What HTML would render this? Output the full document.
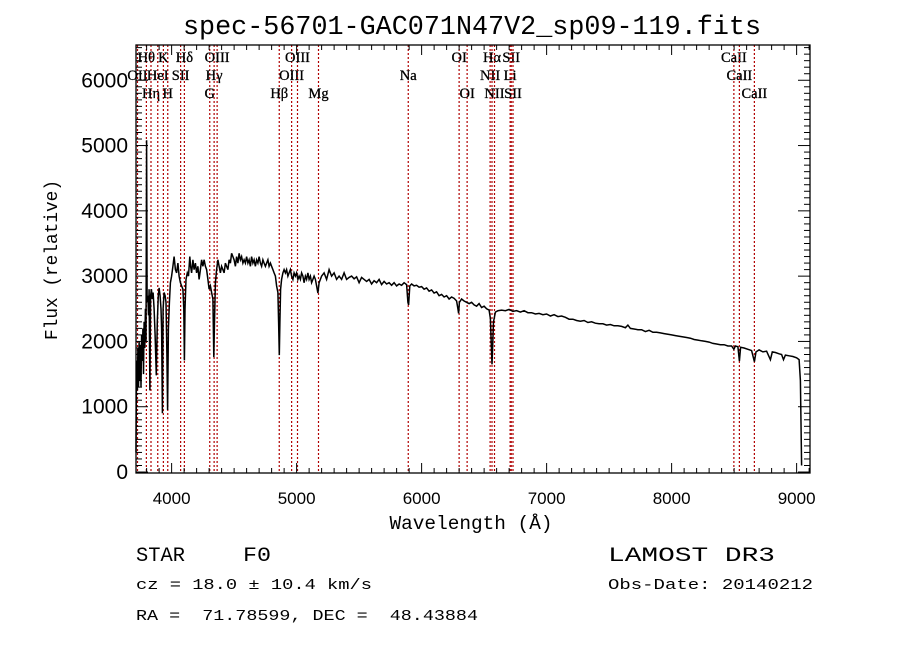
<!DOCTYPE html>
<html><head><meta charset="utf-8"><style>
html,body{margin:0;padding:0;background:#fff;}
svg{display:block;}
text{white-space:pre;}
</style></head><body>
<svg id="chart" width="900" height="649" viewBox="0 0 900 649" xmlns="http://www.w3.org/2000/svg" xml:space="preserve">
<rect width="900" height="649" fill="#fff"/>
<text x="472" y="34" text-anchor="middle" font-family="Liberation Mono, monospace" font-size="26.5" textLength="578" lengthAdjust="spacingAndGlyphs">spec-56701-GAC071N47V2_sp09-119.fits</text>
<g id="lines"></g>
<g id="spec"></g>
<g id="axes"></g>
<text x="471" y="529" text-anchor="middle" font-family="Liberation Mono, monospace" font-size="19" textLength="163" lengthAdjust="spacingAndGlyphs">Wavelength (Å)</text>
<text transform="translate(57,260) rotate(-90)" text-anchor="middle" font-family="Liberation Mono, monospace" font-size="18" textLength="160" lengthAdjust="spacingAndGlyphs">Flux (relative)</text>
<text x="136" y="561" font-family="Liberation Mono, monospace" font-size="20" textLength="49" lengthAdjust="spacingAndGlyphs">STAR</text>
<text x="243" y="561" font-family="Liberation Mono, monospace" font-size="20" textLength="28" lengthAdjust="spacingAndGlyphs">F0</text>
<text x="608" y="561" font-family="Liberation Mono, monospace" font-size="20" textLength="167" lengthAdjust="spacingAndGlyphs">LAMOST DR3</text>
<text x="136" y="589" font-family="Liberation Mono, monospace" font-size="15" textLength="236" lengthAdjust="spacingAndGlyphs">cz = 18.0 ± 10.4 km/s</text>
<text x="608" y="589" font-family="Liberation Mono, monospace" font-size="15" textLength="205" lengthAdjust="spacingAndGlyphs">Obs-Date: 20140212</text>
<text x="136" y="620" font-family="Liberation Mono, monospace" font-size="15" textLength="342" lengthAdjust="spacingAndGlyphs">RA =  71.78599, DEC =  48.43884</text>
</svg>
<script>
const wave=[3715,3718,3722,3726,3730,3735,3740,3745,3750,3755,3760,3765,3770,3775,3780,3785,3790,3795,3800,3804,3810,3815,3820,3826,3832,3838,3845,3852,3860,3868,3877,3885,3893,3900,3908,3915,3920,3926,3932,3940,3948,3955,3962,3968,3974,3982,3990,4000,4010,4020,4030,4040,4050,4060,4070,4080,4090,4097,4102,4107,4115,4125,4135,4145,4152,4160,4170,4180,4190,4200,4210,4220,4230,4240,4250,4260,4270,4280,4290,4300,4310,4320,4330,4337,4343,4350,4360,4370,4380,4390,4400,4410,4420,4430,4440,4450,4460,4470,4480,4490,4500,4510,4520,4530,4540,4550,4560,4570,4580,4590,4600,4610,4620,4630,4640,4650,4660,4670,4680,4690,4700,4710,4720,4730,4740,4750,4760,4770,4780,4790,4800,4810,4820,4830,4840,4850,4856,4861,4866,4872,4880,4890,4900,4910,4920,4930,4940,4950,4960,4970,4980,4990,5000,5010,5020,5030,5040,5050,5060,5070,5080,5090,5100,5110,5120,5130,5140,5150,5160,5170,5180,5190,5200,5220,5240,5260,5280,5300,5320,5340,5360,5380,5400,5420,5440,5460,5480,5500,5520,5540,5560,5580,5600,5620,5640,5660,5680,5700,5720,5740,5760,5780,5800,5820,5840,5860,5880,5890,5896,5905,5920,5940,5960,5980,6000,6020,6040,6060,6080,6100,6120,6140,6160,6180,6200,6220,6240,6260,6280,6290,6296,6302,6320,6340,6360,6380,6400,6420,6440,6460,6480,6500,6520,6540,6550,6558,6563,6568,6575,6590,6610,6640,6670,6700,6730,6760,6790,6820,6850,6880,6910,6940,6970,7000,7030,7060,7090,7120,7150,7180,7210,7240,7270,7300,7330,7360,7390,7420,7450,7480,7510,7540,7570,7600,7630,7650,7670,7700,7730,7760,7790,7820,7850,7880,7910,7940,7970,8000,8030,8060,8090,8120,8150,8180,8210,8240,8270,8300,8330,8360,8390,8420,8450,8480,8498,8510,8530,8542,8552,8580,8610,8640,8662,8675,8700,8730,8760,8790,8805,8830,8860,8880,8895,8910,8940,8970,9000,9020,9030,9040];
const flux=[300,1300,1700,1250,1900,1300,2000,1400,1950,1300,2100,1700,2200,1500,2300,1900,2500,2000,5080,2600,2700,2400,2800,1250,2700,2800,2650,2750,2500,2100,1480,2300,2700,2820,2700,2500,2200,900,2500,2750,2700,2600,1800,950,2200,2600,2900,3000,3150,3300,3100,3050,3200,3000,2900,2850,2800,2500,1710,2500,2950,3050,3000,3300,3150,3050,3250,3100,3200,3050,3150,2950,3100,3250,3150,3250,3150,3100,2950,2800,2850,2750,2650,1760,2300,2900,3100,3250,3150,3050,3150,3100,3050,3200,3150,3100,3250,3200,3350,3300,3250,3150,3300,3200,3350,3250,3300,3200,3250,3200,3300,3200,3250,3150,3300,3200,3250,3150,3250,3200,3300,3200,3150,3250,3200,3150,3200,3250,3150,3200,3150,3100,3050,3000,2850,2750,2300,1790,2300,2800,2950,3050,3100,3050,3100,3000,3050,3100,3000,2950,3050,3000,3050,2950,3000,2950,3050,3000,2900,3000,2950,3050,2950,3000,2900,2950,3000,2950,2850,2740,2900,2950,3000,3050,2950,3100,3000,3050,2950,3000,2950,3050,2950,2980,3000,2960,2990,2900,2980,2950,2920,2950,2880,2930,2900,2950,2870,2920,2880,2900,2860,2900,2850,2880,2860,2900,2870,2600,2560,2850,2880,2850,2860,2830,2840,2800,2820,2770,2790,2740,2760,2700,2720,2680,2700,2650,2680,2660,2620,2500,2430,2600,2650,2620,2600,2580,2600,2560,2540,2580,2520,2540,2500,2480,2350,1900,1650,1900,2300,2450,2470,2480,2470,2490,2460,2470,2450,2470,2440,2440,2420,2430,2410,2420,2390,2410,2380,2390,2370,2340,2340,2320,2310,2320,2290,2300,2280,2270,2270,2250,2260,2240,2240,2230,2210,2250,2200,2190,2180,2180,2150,2170,2140,2140,2130,2120,2110,2100,2090,2080,2070,2060,2050,2030,2020,2010,2000,1990,1970,1960,1950,1950,1930,1930,1880,1930,1920,1700,1910,1900,1880,1860,1690,1840,1870,1840,1850,1720,1840,1830,1810,1800,1720,1790,1780,1770,1750,1720,1400,100];
const lineWaves=[3727,3798,3835,3889,3934,3969,4072,4102,4305,4340,4364,4861,4960,5007,5175,5893,6300,6364,6548,6563,6583,6708,6717,6731,8498,8542,8662];
const labelNames=["OII","Hθ","Hη","HeI","K","H","SII","Hδ","G","Hγ","OIII","Hβ","OIII","OIII","Mg","Na","OI","OI","NII","Hα","NII","Li","SII","SII","CaII","CaII","CaII"];
const labelRows=[1,0,2,1,0,2,1,0,2,1,0,2,1,0,2,1,0,2,1,0,2,1,0,2,0,1,2];
const xTicks=[4000,5000,6000,7000,8000,9000];
const yTicks=[0,1000,2000,3000,4000,5000,6000];

const NS="http://www.w3.org/2000/svg";
const L=136,R=810,T=45,B=473;
const XMIN=3715,XMAX=9107,YMIN=-15,YMAX=6540;
const xs=w=>L+(w-XMIN)/(XMAX-XMIN)*(R-L);
const ys=f=>B-(f-YMIN)/(YMAX-YMIN)*(B-T);
function mk(tag,attrs,parent){const e=document.createElementNS(NS,tag);for(const k in attrs)e.setAttribute(k,attrs[k]);parent.appendChild(e);return e;}

const gl=document.getElementById('lines');
lineWaves.forEach((w,i)=>{
  const x=xs(w);
  const ln=mk('line',{x1:x,x2:x,y1:T,y2:B,stroke:'#b00000','stroke-width':1.2,'stroke-dasharray':'2,2'},gl);
  
  
  const t=mk('text',{x:x,y:62+labelRows[i]*18,'text-anchor':'middle','font-family':'Liberation Serif, serif','font-size':14.5,'stroke':'#000','stroke-width':0.3},gl);
  t.textContent=labelNames[i];
  
  
});

const gs=document.getElementById('spec');
const pts=wave.map((w,i)=>xs(w).toFixed(1)+','+ys(flux[i]).toFixed(1)).join(' ');
const pl=mk('polyline',{points:pts,fill:'none',stroke:'#000','stroke-width':1.5,'stroke-linejoin':'miter'},gs);



const ga=document.getElementById('axes');
const fr=mk('rect',{x:L,y:T,width:R-L,height:B-T,fill:'none',stroke:'#000','stroke-width':1.3},ga);


for(let w=3800;w<=XMAX;w+=100){
  const x=xs(w);const major=(w%1000===0);const len=major?10:5;
  mk('line',{x1:x,x2:x,y1:B,y2:B-len,stroke:'#000','stroke-width':1},ga);
  mk('line',{x1:x,x2:x,y1:T,y2:T+len,stroke:'#000','stroke-width':1},ga);
}
xTicks.forEach(v=>{
  const t=mk('text',{x:xs(v),y:504,'text-anchor':'middle','font-family':'Liberation Sans, sans-serif','font-size':17},ga);
  t.textContent=v;
  
  
});
for(let f=0;f<=YMAX;f+=100){
  const y=ys(f);const major=(f%1000===0);const len=major?12:6;
  mk('line',{x1:L,x2:L+len,y1:y,y2:y,stroke:'#000','stroke-width':1},ga);
  mk('line',{x1:R,x2:R-len,y1:y,y2:y,stroke:'#000','stroke-width':1},ga);
}
yTicks.forEach(v=>{
  const t=mk('text',{x:128,y:ys(v)+7,'text-anchor':'end','font-family':'Liberation Sans, sans-serif','font-size':21},ga);
  t.textContent=v;
  
  
});
</script>
</body></html>
